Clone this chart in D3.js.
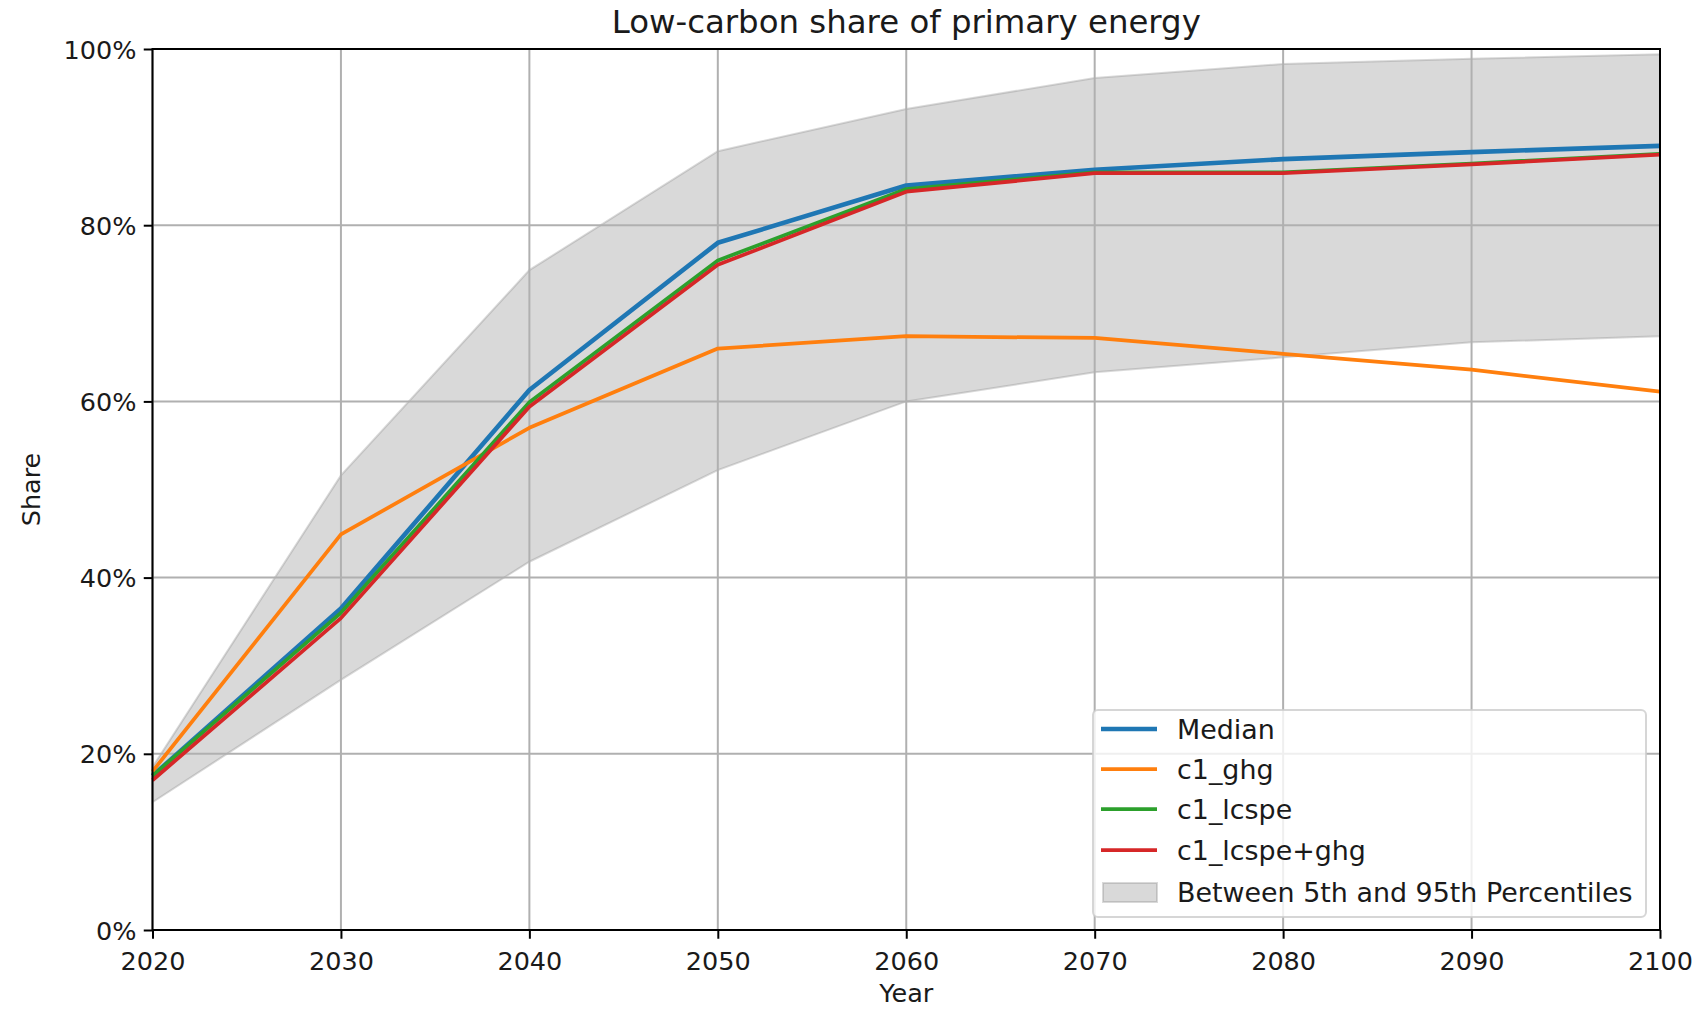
<!DOCTYPE html>
<html>
<head>
<meta charset="utf-8">
<script src="https://cdn.jsdelivr.net/npm/d3@7"></script>
<style>
  html, body { margin: 0; padding: 0; background: #fff; }
  svg { display: block; font-family: "DejaVu Sans", sans-serif; }
</style>
</head>
<body>
<svg id="chart" width="1708" height="1009"></svg>
<script>
// ---- Data ----
const years = [2020, 2030, 2040, 2050, 2060, 2070, 2080, 2090, 2100];
const median      = [0.175, 0.365, 0.613, 0.780, 0.845, 0.863, 0.875, 0.883, 0.890];
const c1_ghg      = [0.180, 0.449, 0.570, 0.660, 0.674, 0.672, 0.654, 0.636, 0.611];
const c1_lcspe    = [0.175, 0.360, 0.599, 0.760, 0.841, 0.860, 0.860, 0.870, 0.881];
const c1_lcspe_ghg= [0.170, 0.354, 0.594, 0.755, 0.838, 0.859, 0.859, 0.869, 0.880];
const p95         = [0.185, 0.516, 0.749, 0.884, 0.932, 0.967, 0.983, 0.989, 0.994];
const p5          = [0.145, 0.284, 0.418, 0.522, 0.600, 0.633, 0.650, 0.667, 0.674];
const yTicks = [0, 0.2, 0.4, 0.6, 0.8, 1.0];
const xTicks = [2020, 2030, 2040, 2050, 2060, 2070, 2080, 2090, 2100];
const seriesNames = ["Median", "c1_ghg", "c1_lcspe", "c1_lcspe+ghg"];
const seriesColors = ["#1f77b4", "#ff7f0e", "#2ca02c", "#d62728"];
const bandLabel = "Between 5th and 95th Percentiles";
const title = "Low-carbon share of primary energy";

// ---- Layout ----
const L = 152.5, R = 1660, T = 49, B = 930;
const svg = d3.select("#chart");
const x = d3.scaleLinear().domain([2020, 2100]).range([L, R]);
const y = d3.scaleLinear().domain([0, 1]).range([B, T]);

// Band
const band = years.map((yr, i) => ({yr, lo: p5[i], hi: p95[i]}));
svg.append("path")
  .datum(band)
  .attr("d", d3.area().x(d => x(d.yr)).y0(d => y(d.lo)).y1(d => y(d.hi)))
  .attr("fill", "#808080").attr("fill-opacity", 0.3)
  .attr("stroke", "#808080").attr("stroke-opacity", 0.3).attr("stroke-width", 2);

// Grid
const grid = svg.append("g");
grid.selectAll("line.gx").data(xTicks).join("line")
  .attr("x1", d => x(d)).attr("x2", d => x(d)).attr("y1", T).attr("y2", B)
  .attr("stroke", "#b0b0b0").attr("stroke-width", 2);
grid.selectAll("line.gy").data(yTicks).join("line")
  .attr("x1", L).attr("x2", R).attr("y1", d => y(d)).attr("y2", d => y(d))
  .attr("stroke", "#b0b0b0").attr("stroke-width", 2);

// Lines
const allSeries = [median, c1_ghg, c1_lcspe, c1_lcspe_ghg];
const widths = [4.6, 3.75, 3.75, 3.75];
const line = d3.line().x((d, i) => x(years[i])).y(d => y(d));
allSeries.forEach((s, k) => {
  svg.append("path").datum(s)
    .attr("d", line)
    .attr("fill", "none")
    .attr("stroke", seriesColors[k])
    .attr("stroke-width", widths[k])
    .attr("stroke-linejoin", "round");
});

// Axes
const xAxis = d3.axisBottom(x).tickValues(xTicks).tickFormat(d3.format("d")).tickSizeInner(8.75).tickSizeOuter(0).tickPadding(8.75);
const yAxis = d3.axisLeft(y).tickValues(yTicks).tickFormat(d3.format(".0%")).tickSizeInner(8.75).tickSizeOuter(0).tickPadding(8.75);
const gx = svg.append("g").attr("transform", `translate(0,${B})`).call(xAxis);
const gy = svg.append("g").attr("transform", `translate(${L},0)`).call(yAxis);
[gx, gy].forEach(g => {
  g.select(".domain").remove();
  g.selectAll(".tick line").attr("stroke", "#000").attr("stroke-width", 2);
  g.selectAll(".tick text").attr("fill", "#1a1a1a").style("font-size", "25.5px").style("font-family", "DejaVu Sans");
});
gx.selectAll(".tick text").attr("dy", null).attr("y", 40);
gy.selectAll(".tick text").attr("dy", "0.36em").attr("x", -16);

// Spines
svg.append("rect").attr("x", L).attr("y", T).attr("width", R - L).attr("height", B - T)
  .attr("fill", "none").attr("stroke", "#000").attr("stroke-width", 2);

// Title & axis labels
svg.append("text").attr("x", (L + R) / 2).attr("y", 33).attr("text-anchor", "middle")
  .style("font-size", "32.4px").attr("fill", "#1a1a1a").text(title);
svg.append("text").attr("x", (L + R) / 2).attr("y", 1002).attr("text-anchor", "middle")
  .style("font-size", "25.5px").attr("fill", "#1a1a1a").text("Year");
svg.append("text").attr("transform", `translate(40,${(T + B) / 2}) rotate(-90)`).attr("text-anchor", "middle")
  .style("font-size", "25.5px").attr("fill", "#1a1a1a").text("Share");

// Legend
const lg = svg.append("g");
lg.append("rect").attr("x", 1093).attr("y", 710).attr("width", 553).attr("height", 207)
  .attr("rx", 5).attr("ry", 5)
  .attr("fill", "#fff").attr("fill-opacity", 0.8)
  .attr("stroke", "#cccccc").attr("stroke-opacity", 0.8).attr("stroke-width", 2);
const rowY = [729, 769, 809, 850, 892];
seriesNames.forEach((n, k) => {
  lg.append("line").attr("x1", 1101).attr("x2", 1157).attr("y1", rowY[k]).attr("y2", rowY[k])
    .attr("stroke", seriesColors[k]).attr("stroke-width", widths[k]);
  lg.append("text").attr("x", 1177).attr("y", rowY[k] + 10).style("font-size", "26.9px")
    .attr("fill", "#1a1a1a").text(n);
});
lg.append("rect").attr("x", 1103).attr("y", 883).attr("width", 54).attr("height", 19)
  .attr("fill", "#808080").attr("fill-opacity", 0.3)
  .attr("stroke", "#808080").attr("stroke-opacity", 0.3).attr("stroke-width", 2);
lg.append("text").attr("x", 1177).attr("y", rowY[4] + 10).style("font-size", "26.9px")
  .attr("fill", "#1a1a1a").text(bandLabel);
</script>
</body>
</html>
